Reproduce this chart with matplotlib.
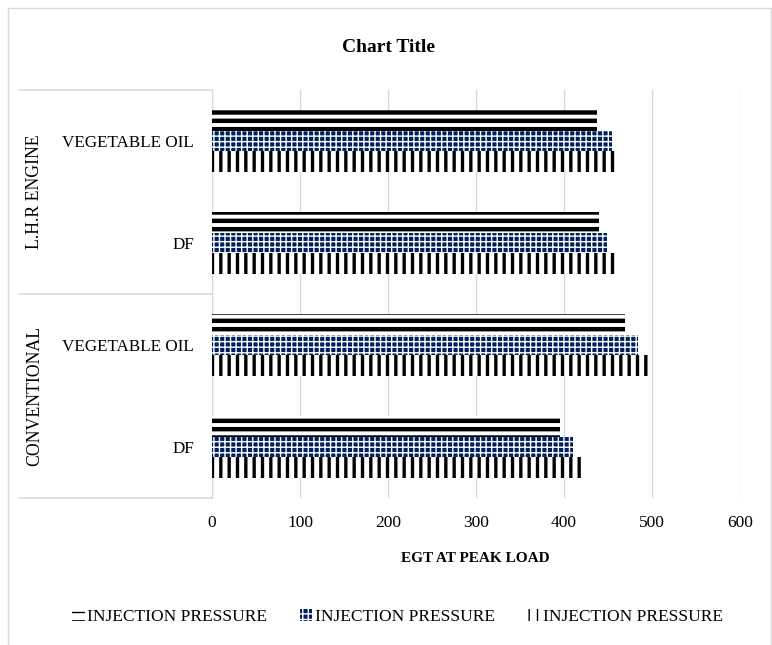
import matplotlib

matplotlib.use("Agg")

import matplotlib.pyplot as plt  # noqa: E402
from matplotlib.patches import Patch, Rectangle  # noqa: E402

# categories, bottom to top as drawn on the y axis
fuels = ["DF", "VEGETABLE OIL", "DF", "VEGETABLE OIL"]
engines = ["CONVENTIONAL", "L.H.R ENGINE"]
series_names = ["INJECTION PRESSURE", "INJECTION PRESSURE", "INJECTION PRESSURE"]

# EGT at peak load, one list per series (same order as fuels)
egt_lines = [395, 469, 440, 437]
egt_checks = [410, 484, 449, 455]
egt_stripes = [423, 497, 459, 460]

x_ticks = [0, 100, 200, 300, 400, 500, 600]

GRID = "#d9d9d9"
NAVY = "#002060"
FONT = "Liberation Serif"

plt.rcParams["font.family"] = FONT

fig = plt.figure(figsize=(7.72, 6.45), dpi=100)
ax = fig.add_axes([212 / 772, 1 - 498 / 645, 528 / 772, 408 / 645])

pos = list(range(len(fuels)))
h = 0.2
styles = [
    # values, offset, face, hatch colour, hatch, hatch lw
    (egt_lines, +h, "white", "black", "--", 3.2),
    (egt_checks, 0.0, NAVY, "white", "+++", 1.0),
    (egt_stripes, -h, "white", "black", "||", 2.4),
]
handles = []
for (vals, off, face, hc, hatch, hlw), name in zip(styles, series_names):
    bars = ax.barh([p + off for p in pos], vals, height=h, color=face,
                   edgecolor=hc, hatch=hatch, linewidth=0, zorder=3)
    for b in bars:
        if hasattr(b, "set_hatch_linewidth"):
            b.set_hatch_linewidth(hlw)
    hp = Patch(facecolor=face, edgecolor=hc, hatch=hatch, linewidth=0, label=name)
    if hasattr(hp, "set_hatch_linewidth"):
        hp.set_hatch_linewidth(hlw)
    handles.append(hp)

ax.set_xlim(x_ticks[0], x_ticks[-1])
ax.set_ylim(-0.5, len(fuels) - 0.5)
ax.set_xticks(x_ticks)
ax.set_yticks(pos)
ax.set_yticklabels(fuels)
ax.tick_params(axis="x", length=0, pad=12, labelsize=12.5)
ax.tick_params(axis="y", length=0, pad=13, labelsize=12.3)
ax.xaxis.grid(True, color=GRID, linewidth=1, zorder=0)
ax.set_axisbelow(True)
for side in ["top", "right", "bottom"]:
    ax.spines[side].set_visible(False)
ax.spines["left"].set_color(GRID)

# category box on the left: separators and group labels
yt = ax.get_yaxis_transform()
box_left = -(212 - 20) / 528
for yy in [-0.5, 1.5, 3.5]:
    ax.plot([box_left, 0], [yy, yy], color=GRID, linewidth=1.2,
            transform=yt, clip_on=False)
for i, eng in enumerate(engines):
    ax.text(-(212 - 35) / 528, 2 * i + 0.5, eng, rotation=90, ha="center",
            va="center", fontsize=12.8, transform=yt)

fig.text(475 / 772, 1 - 558 / 645, "EGT AT PEAK LOAD", ha="center", va="center",
         fontsize=11, fontweight="bold")
fig.text(389 / 772, 1 - 47 / 645, "Chart Title", ha="center", va="center",
         fontsize=14, fontweight="bold")

fig.legend(handles=handles, loc="center", bbox_to_anchor=(0.515, 1 - 617 / 645),
           ncol=3, frameon=False, fontsize=12.5, handlelength=0.7,
           handleheight=0.7, handletextpad=0.15, columnspacing=1.9)

fig.patches.append(Rectangle((7.5 / 772, -0.01), 763 / 772, 1 - 7.5 / 645 + 0.01,
                             transform=fig.transFigure, fill=False,
                             edgecolor=GRID, linewidth=1))

fig.savefig("out.png", dpi=100)
